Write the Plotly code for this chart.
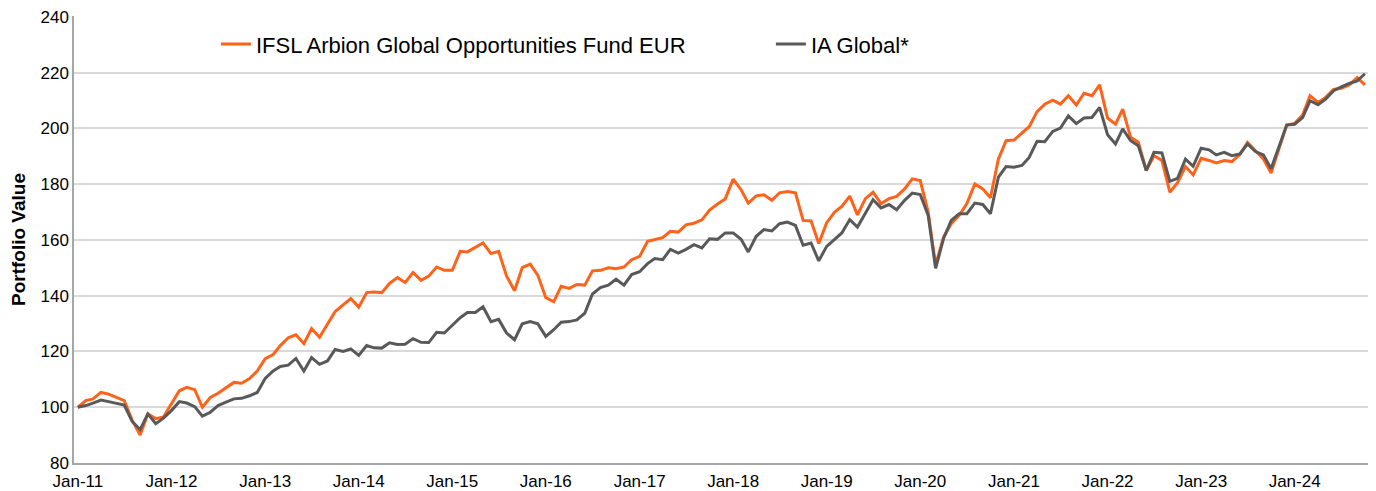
import pandas as pd
import plotly.graph_objects as go

start_month = "2011-01-01"
n_months = 166
months = pd.date_range(start_month, periods=n_months, freq="MS")

fund_name = "IFSL Arbion Global Opportunities Fund EUR"
bench_name = "IA Global*"

fund = [
    100, 102.4, 103, 105.3, 104.7, 103.5, 102.4, 95.3, 90, 97.6, 95.9, 96.5,
    101.2, 105.9, 107.1, 106.3, 100, 103.5, 105, 106.9, 108.9, 108.6, 110.3, 113,
    117.4, 118.9, 122.1, 124.9, 126, 122.8, 128.2, 125.1, 129.6, 134.3, 136.7, 139,
    135.9, 141.1, 141.3, 141.1, 144.4, 146.5, 144.7, 148.3, 145.5, 147, 150.3, 149.1,
    149.1, 155.9, 155.7, 157.2, 158.9, 155.1, 155.9, 147, 141.8, 150.1, 151.3, 147.3,
    139.3, 137.8, 143.4, 142.6, 144, 143.8, 148.9, 149.1, 150, 149.7, 150.3, 152.9,
    154.1, 159.5, 160.2, 160.8, 163.1, 162.8, 165.4, 166, 167.2, 170.7, 172.9, 174.7,
    181.8, 178, 173.2, 175.8, 176.2, 174.2, 176.9, 177.4, 176.9, 167, 166.8, 158.7,
    166.2, 170, 172, 175.7, 169, 174.8, 177.1, 173, 174.8, 175.6, 178.3, 181.9,
    181.3, 170, 151, 161, 165.8, 168.8, 173, 180.1, 178.3, 175.1, 189, 195.6,
    195.8, 198.2, 200.6, 206, 208.7, 210.1, 208.7, 211.7, 208.4, 212.6, 211.7, 215.6,
    203.7, 201.5, 206.9, 196.8, 195, 184.9, 190.2, 188.5, 177.1, 180.5, 186.3, 183.3,
    189.3, 188.5, 187.6, 188.5, 188.1, 190.6, 195, 192, 189, 184, 192.6, 201.2,
    201.8, 204.8, 211.7, 209.3, 211.1, 214, 214.4, 215.6, 218.2, 215.6,
]

bench = [
    100, 100.6, 101.5, 102.6, 102, 101.5, 100.8, 94.9, 92, 97.6, 94.1, 96.1,
    98.8, 102, 101.5, 100.2, 96.8, 98.2, 100.6, 101.8, 103, 103.2, 104.1, 105.3,
    110.3, 113, 114.6, 115.1, 117.5, 113, 117.8, 115.4, 116.6, 120.7, 120, 120.9,
    118.6, 122.1, 121.3, 121.2, 123.1, 122.5, 122.6, 124.6, 123.3, 123.2, 126.9, 126.6,
    129.5, 132.1, 134, 134, 136, 130.7, 131.5, 126.6, 124.2, 129.9, 130.7, 129.9,
    125.4, 127.8, 130.5, 130.7, 131.3, 133.7, 140.6, 142.9, 143.8, 145.9, 143.8, 147.6,
    148.6, 151.5, 153.3, 152.9, 156.6, 155.3, 156.6, 158.3, 157.1, 160.4, 160.2, 162.5,
    162.5, 160.2, 155.7, 161.3, 163.7, 163.2, 165.8, 166.4, 165.2, 158.1, 158.9, 152.5,
    157.7, 160.1, 162.5, 167.3, 164.6, 169.6, 174.4, 171.5, 172.7, 170.8, 174.2, 176.8,
    176.3, 168.8, 149.8, 160.5, 167, 169.4, 169.4, 173.2, 172.7, 169.4, 182.5, 186.3,
    186.1, 186.7, 189.6, 195.4, 195.2, 198.9, 200.1, 204.5, 201.7, 203.7, 203.9, 207.5,
    197.7, 194.4, 199.8, 195.6, 193.8, 184.9, 191.4, 191.2, 181, 182.1, 189, 186.4,
    192.9, 192.3, 190.5, 191.4, 190.2, 190.8, 194.4, 191.7, 190.5, 185.5, 193.8, 201.2,
    201.5, 203.9, 209.9, 208.5, 210.5, 213.5, 214.9, 216.1, 217, 219.6,
]

y_ticks = [80, 100, 120, 140, 160, 180, 200, 220, 240]

fig = go.Figure()
fig.add_trace(go.Scatter(x=months, y=fund, mode="lines", name=fund_name,
                         line=dict(color="#FF6319", width=3)))
fig.add_trace(go.Scatter(x=months, y=bench, mode="lines", name=bench_name,
                         line=dict(color="#595959", width=3)))

font_family = "Liberation Sans, Arial, sans-serif"
fig.update_layout(
    width=1368, height=483,
    margin=dict(l=66, r=6, t=8, b=28, autoexpand=False),
    paper_bgcolor="white", plot_bgcolor="white",
    font=dict(family=font_family, color="#000000", size=17),
    showlegend=True,
    legend=dict(orientation="h", x=0.1095, y=0.937, xanchor="left", yanchor="middle",
                font=dict(size=22, color="#000000"), entrywidth=510,
                bgcolor="rgba(0,0,0,0)", itemwidth=30, tracegroupgap=0),
    xaxis=dict(
        range=["2010-12-17", "2024-10-21"],
        tickformat="%b-%y", dtick="M12", tick0=start_month,
        showgrid=False, zeroline=False, automargin=False,
        showline=True, linecolor="#a6a6a6", linewidth=1.5,
        ticks="", tickfont=dict(size=17), ticklabelstandoff=2,
        ticklabeloverflow="allow",
    ),
    yaxis=dict(
        range=[80, 240.3], tickvals=y_ticks, automargin=False,
        showgrid=True, gridcolor="#d9d9d9", gridwidth=1.5,
        zeroline=False, showline=True, linecolor="#a6a6a6", linewidth=1.5,
        ticks="", tickfont=dict(size=17), ticklabeloverflow="allow",
        title=dict(text="<b>Portfolio Value</b>", font=dict(size=19), standoff=13),
    ),
)

fig.write_html("out.html")
